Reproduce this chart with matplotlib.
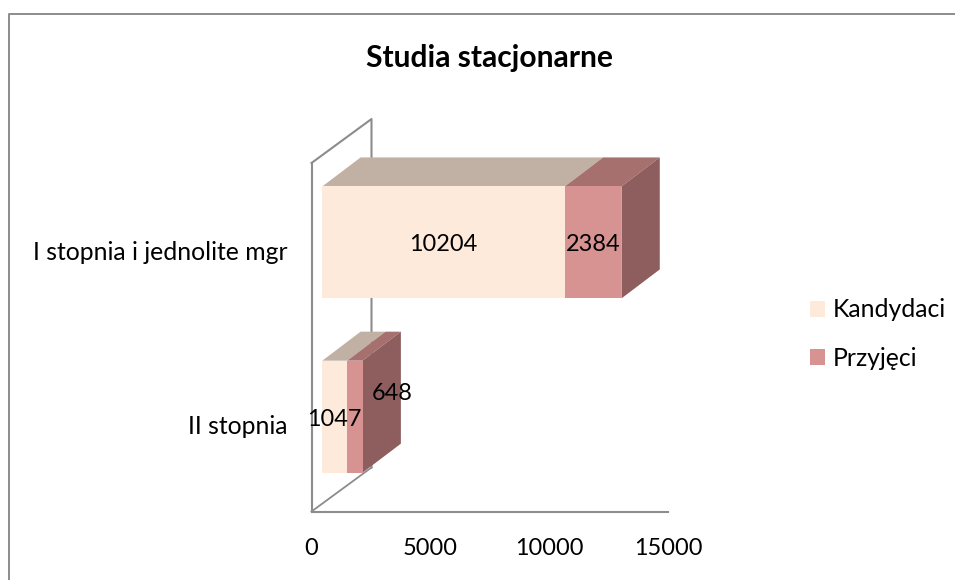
import matplotlib
matplotlib.use('Agg')
import matplotlib.pyplot as plt
from matplotlib.lines import Line2D

plt.rcParams['font.family'] = ['Lato', 'DejaVu Sans']

# Dane
kategorie = ['II stopnia', 'I stopnia i jednolite mgr']
kandydaci = [1047, 10204]
przyjeci = [648, 2384]
serie = ['Kandydaci', 'Przyjęci']
x_ticks = [0, 5000, 10000, 15000]

W, H = 955, 580
FS_NUM = 16.9
FS_TXT = 17.8

# kolory: przód, góra, bok
C_KAND = ['#FDEADA', '#C0B1A4']
C_PRZY = ['#D79392', '#A6706E']
C_SIDE = '#8E5E5E'
C_LINE = '#8C8C8C'

fig = plt.figure(figsize=(W / 100, H / 100), dpi=100)
# osie ustawione w pikselach obrazka
ax = fig.add_axes([311.5 / W, 1 - 511.5 / H, 356.5 / W, 348.5 / H])
ax.set_xlim(0, 15000)
ax.set_ylim(-0.5, 1.5)

# przeliczniki piksele -> dane dla efektu 3D
px = 15000 / 356.5
py = 2 / 348.5
wall_dx, wall_dy = 60 * px, 44 * py
bar_x0, bar_y0 = 10.8 * px, 7.7 * py
depth_x, depth_y = 38.3 * px, 29 * py
bar_h = 112 * py

# ściany
ax.plot([0, wall_dx, wall_dx], [1.5, 1.5 + wall_dy, -0.5 + wall_dy], color=C_LINE, lw=1.5, clip_on=False, zorder=1)
ax.plot([0, wall_dx], [-0.5, -0.5 + wall_dy], color=C_LINE, lw=1.3, clip_on=False, zorder=1)

for i in range(len(kategorie)):
    y = i + bar_y0
    x0 = bar_x0
    x1 = x0 + kandydaci[i]
    x2 = x1 + przyjeci[i]
    top = y + bar_h / 2
    bot = y - bar_h / 2
    # góra
    ax.fill([x0, x1, x1 + depth_x, x0 + depth_x], [top, top, top + depth_y, top + depth_y],
            color=C_KAND[1], lw=0, clip_on=False, zorder=2)
    ax.fill([x1, x2, x2 + depth_x, x1 + depth_x], [top, top, top + depth_y, top + depth_y],
            color=C_PRZY[1], lw=0, clip_on=False, zorder=2)
    # bok
    ax.fill([x2, x2 + depth_x, x2 + depth_x, x2], [bot, bot + depth_y, top + depth_y, top],
            color=C_SIDE, lw=0, clip_on=False, zorder=2)

ys = [i + bar_y0 for i in range(len(kategorie))]
lefts = [bar_x0] * len(kategorie)
lefts2 = [bar_x0 + k for k in kandydaci]
b1 = ax.barh(ys, kandydaci, height=bar_h, left=lefts, color=C_KAND[0], lw=0, zorder=3, label=serie[0])
b2 = ax.barh(ys, przyjeci, height=bar_h, left=lefts2, color=C_PRZY[0], lw=0, zorder=3, label=serie[1])

# etykiety danych
def etykieta(x, y, v, dx=0, dy=-1.8):
    ax.annotate(str(v), (x, y), xytext=(dx, dy), textcoords='offset points',
                ha='center', va='center', fontsize=FS_NUM, color='black', zorder=5)

etykieta(lefts[1] + kandydaci[1] / 2, ys[1], kandydaci[1])
etykieta(lefts2[1] + przyjeci[1] / 2, ys[1], przyjeci[1])
etykieta(lefts[0] + kandydaci[0] / 2, ys[0], kandydaci[0])
etykieta(lefts2[0] + przyjeci[0] / 2, ys[0], przyjeci[0], dx=26.6, dy=16.5)

for s in ['top', 'right']:
    ax.spines[s].set_visible(False)
for s in ['left', 'bottom']:
    ax.spines[s].set_color(C_LINE)
    ax.spines[s].set_linewidth(1.5)

ax.set_xticks(x_ticks)
ax.set_xticklabels([str(t) for t in x_ticks], fontsize=FS_NUM)
ax.set_yticks(range(len(kategorie)))
ax.set_yticklabels(kategorie, fontsize=FS_TXT)
ax.tick_params(axis='both', length=0)
ax.tick_params(axis='x', pad=19)
ax.tick_params(axis='y', pad=17)
ax.get_yticklabels()[1].set_y(1 - 2.5 * py)

fig.text(489 / W, 1 - 58 / H, 'Studia stacjonarne', ha='center', va='center', fontsize=21.6, fontweight='bold')

ax.legend(handles=[b1, b2], loc='center left', bbox_to_anchor=(810 / W, 1 - 334 / H), bbox_transform=fig.transFigure,
          frameon=False, fontsize=FS_TXT, handlelength=0.61, handleheight=0.61, handletextpad=0.3, labelspacing=1.02,
          borderpad=0, borderaxespad=0)

# ramka wykresu: tylko góra i lewa strona
fig.add_artist(Line2D([8.5 / W, 8.5 / W, 1], [0, 1 - 13.5 / H, 1 - 13.5 / H], transform=fig.transFigure,
                      color=C_LINE, lw=1.4))

fig.savefig('out.png', dpi=100)
